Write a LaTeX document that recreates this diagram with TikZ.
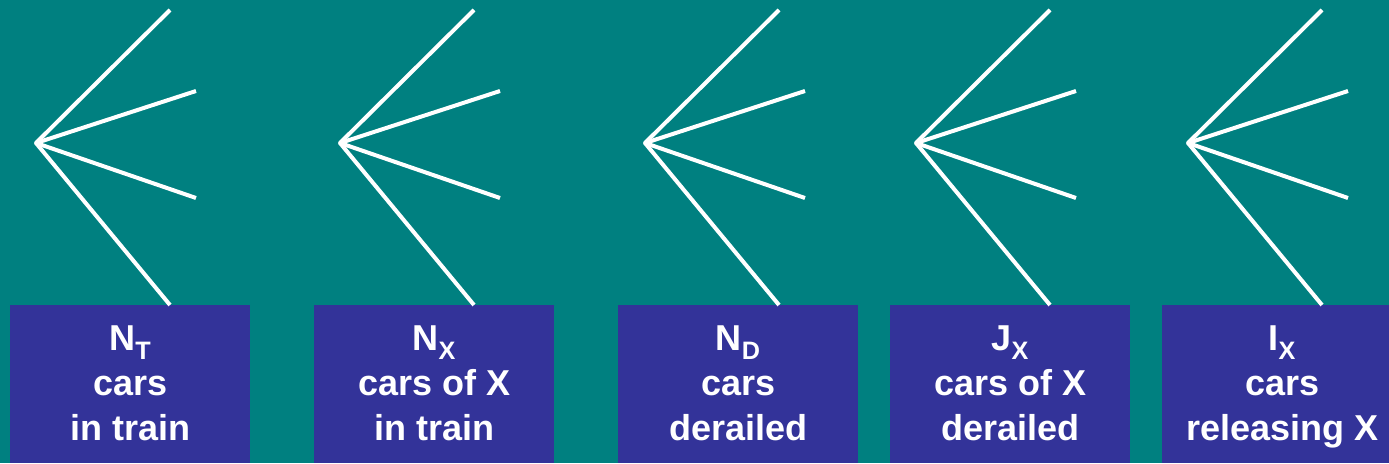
\documentclass[tikz,border=0pt]{standalone}
\usepackage{fontspec}
\setmainfont{Liberation Sans}
\usetikzlibrary{positioning}
\definecolor{tealbg}{HTML}{008080}
\definecolor{boxblue}{HTML}{333399}

\begin{document}
\begin{tikzpicture}[
        x=1pt, y=-1pt,
        fan/.style={draw=white, line width=4pt, line join=round},
        countbox/.style={fill=boxblue, text=white, align=center, inner sep=0pt,
            minimum width=240pt, minimum height=158pt,
            font=\fontsize{36}{45}\selectfont\bfseries}
    ]
        % Background
        \fill[tealbg] (0,0) rectangle (1389,463);
        \useasboundingbox (0,0) rectangle (1389,463);

        % Fans and boxes
        \foreach \i/\ax/\bx/\lbl in {
            1/36/10/{N\textsubscript{T}\\cars\\in train},
            2/340/314/{N\textsubscript{X}\\cars of X\\in train},
            3/645/618/{N\textsubscript{D}\\cars\\derailed},
            4/916/890/{J\textsubscript{X}\\cars of X\\derailed},
            5/1188/1162/{I\textsubscript{X}\\cars\\releasing X}}
        {
            \node (box\i) [countbox, anchor=north west] at (\bx,305)
                {\rule{0pt}{30pt}\lbl\vphantom{g}};
            \coordinate (apex\i) at (\ax,143);
            \coordinate (top\i) at (\ax+134,10);
            \coordinate (upper\i) at (\ax+160,91);
            \coordinate (lower\i) at (\ax+160,198);
            \coordinate (foot\i) at (\ax+134,305);
            \draw [fan] (top\i) -- (apex\i) -- (foot\i);
            \draw [fan] (upper\i) -- (apex\i) -- (lower\i);
        }
    \end{tikzpicture}
\end{document}
